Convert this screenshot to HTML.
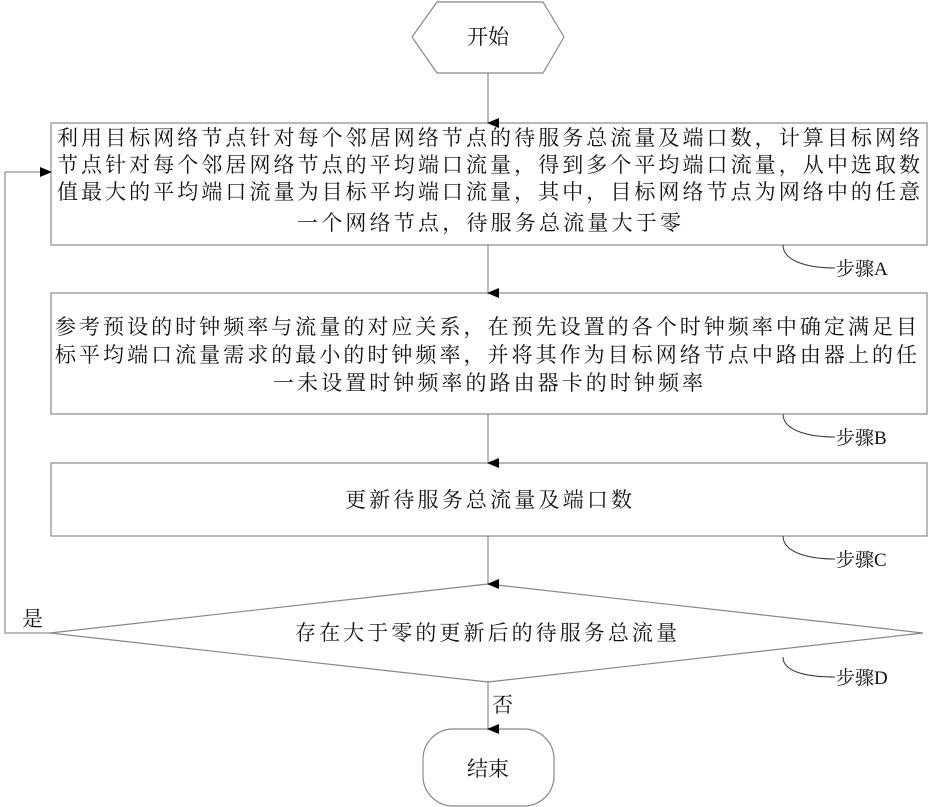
<!DOCTYPE html>
<html><head><meta charset="utf-8"><style>
html,body{margin:0;padding:0;background:#fff;}
svg{display:block;}
text{font-family:"Liberation Serif","Noto Serif CJK SC","Noto Sans CJK SC",serif;font-size:21px;fill:#111;}
.s{font-size:19px;}
</style></head><body>
<svg width="929" height="807" viewBox="0 0 929 807" xmlns="http://www.w3.org/2000/svg">
<defs><marker id="a" markerWidth="10" markerHeight="12" refX="5" refY="11" orient="auto" markerUnits="userSpaceOnUse"><path d="M0,0 L10,0 L5,12 Z" fill="#000"/></marker>
<marker id="r" markerWidth="12" markerHeight="10" refX="11" refY="5" orient="auto" markerUnits="userSpaceOnUse"><path d="M0,0 L12,5 L0,10 Z" fill="#000"/></marker></defs>
<g stroke="#888" stroke-width="1.2" fill="#fff">
<polygon points="412,37 437,2 543,2 564,37 543,73 437,73"/>
<rect x="51" y="123" width="876" height="122"/>
<rect x="51" y="293" width="876" height="121"/>
<rect x="51" y="463" width="876" height="73"/>
<polygon points="50,633 488,584 923,633 488,682"/>
<rect x="423" y="729" width="131" height="77" rx="30" ry="30"/>
</g>
<g stroke="#777" stroke-width="1" fill="none">
<line x1="488" y1="73" x2="488" y2="123" marker-end="url(#a)"/>
<line x1="488" y1="245" x2="488" y2="293" marker-end="url(#a)"/>
<line x1="488" y1="414" x2="488" y2="463" marker-end="url(#a)"/>
<line x1="488" y1="536" x2="488" y2="584" marker-end="url(#a)"/>
<line x1="488" y1="682" x2="488" y2="729" marker-end="url(#a)"/>
<polyline points="50,633 5,633 5,172 51,172" marker-end="url(#r)"/>
<path d="M783,245 C783,262 810,268 835,268" stroke="#333"/>
<path d="M783,414 C783,431 810,437 835,437" stroke="#333"/>
<path d="M783,536 C783,553 810,559 835,559" stroke="#333"/>
<path d="M783,657 C783,673 810,677 835,677" stroke="#333"/>
</g>
<text x="488" y="44" text-anchor="middle">开始</text>
<text x="57" y="145" textLength="863" lengthAdjust="spacing">利用目标网络节点针对每个邻居网络节点的待服务总流量及端口数，计算目标网络</text>
<text x="57" y="172" textLength="863" lengthAdjust="spacing">节点针对每个邻居网络节点的平均端口流量，得到多个平均端口流量，从中选取数</text>
<text x="57" y="199" textLength="863" lengthAdjust="spacing">值最大的平均端口流量为目标平均端口流量，其中，目标网络节点为网络中的任意</text>
<text x="297" y="230" textLength="384" lengthAdjust="spacing">一个网络节点，待服务总流量大于零</text>
<text x="55" y="334" textLength="862" lengthAdjust="spacing">参考预设的时钟频率与流量的对应关系，在预先设置的各个时钟频率中确定满足目</text>
<text x="55" y="362" textLength="862" lengthAdjust="spacing">标平均端口流量需求的最小的时钟频率，并将其作为目标网络节点中路由器上的任</text>
<text x="273" y="390" textLength="430" lengthAdjust="spacing">一未设置时钟频率的路由器卡的时钟频率</text>
<text x="345" y="507" textLength="287" lengthAdjust="spacing">更新待服务总流量及端口数</text>
<text x="295" y="640" textLength="382" lengthAdjust="spacing">存在大于零的更新后的待服务总流量</text>
<text x="488" y="776" text-anchor="middle">结束</text>
<text x="22" y="626">是</text>
<text x="492" y="712">否</text>
<text class="s" x="836" y="275">步骤A</text>
<text class="s" x="836" y="444">步骤B</text>
<text class="s" x="836" y="566">步骤C</text>
<text class="s" x="836" y="684">步骤D</text>
</svg>
</body></html>
